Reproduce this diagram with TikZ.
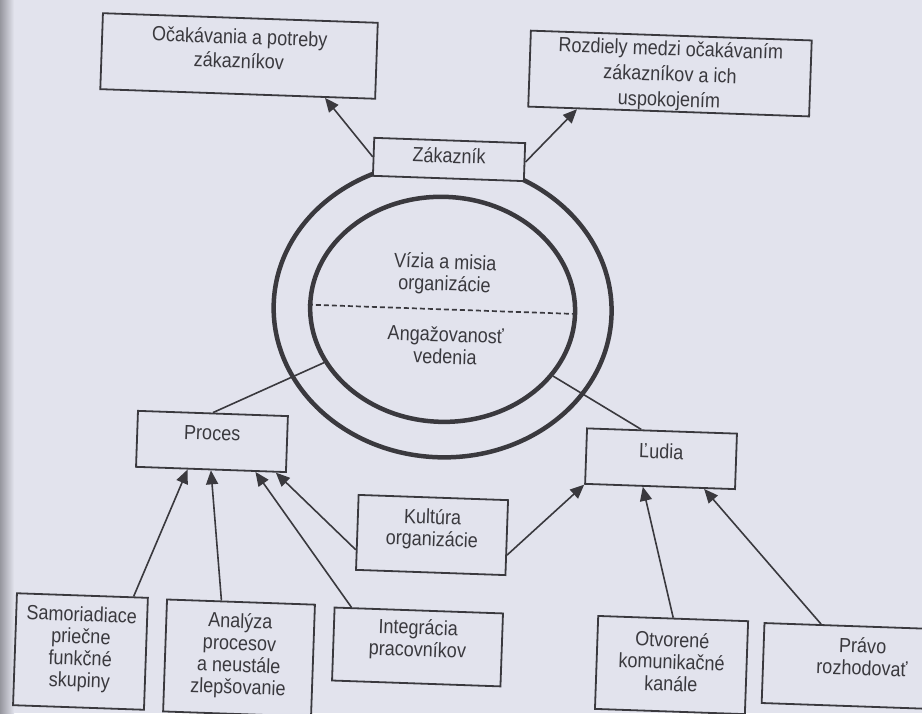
\documentclass[tikz,border=0pt]{standalone}
\usepackage{fontspec}
\setmainfont{Liberation Sans}[FakeStretch=0.88]
\usetikzlibrary{arrows.meta,positioning,shapes.geometric}
\definecolor{ink}{HTML}{3A393E}
\definecolor{paper}{HTML}{E2E3ED}
\tikzset{
  box/.style={draw=ink,line width=1.8pt,fill=paper,text=ink,align=center,inner sep=0pt,text depth=#1},
  box/.default=9pt,
  ring/.style={ellipse,draw=ink,line width=4.5pt,inner sep=0pt},
  link/.style={draw=ink,line width=1.6pt},
  feed/.style={link,-{Triangle[length=14pt,width=12pt]}},
  wide/.style={font=\fontsize{20.5}{#1}\selectfont},
  wide/.default=24pt
}
\begin{document}
\begin{tikzpicture}[x=1pt,y=-1pt,font=\fontsize{20.5}{22}\selectfont]
\fill[paper] (0,0) rectangle (922,713);
\clip (0,0) rectangle (922,713);
\shade[left color=ink!45!paper,right color=paper] (0,0) rectangle (14,713);
\begin{scope}[rotate around={-2:(461,356)},transform shape]
\node[ring,minimum width=338pt,minimum height=296pt] (outer) at (441,310) {};
\node[ring,minimum width=265pt,minimum height=225pt] (inner) at (441,310) {};
\draw[ink,line width=1.7pt,dash pattern=on 5pt off 3pt] (inner.west) -- (inner.east);
\node[align=center,text=ink] (vision) at (442,275) {Vízia a misia\\organizácie};
\node[align=center,text=ink] (lead) at (445,346) {Angažovanosť\\vedenia};

\node[box=15pt,wide,minimum width=275pt,minimum height=76pt] (wants) at (228.7,63.9) {Očakávania a potreby\\zákazníkov};
\node[box=0pt,wide=25.5pt,minimum width=281pt,minimum height=76pt] (gaps) at (660,66.4) {Rozdiely medzi očakávaním\\zákazníkov a ich\\uspokojením};
\node[box=8pt,minimum width=151pt,minimum height=38pt] (customer) at (442.2,160) {Zákazník};
\node[box=17pt,minimum width=150pt,minimum height=56pt] (process) at (215.1,450.1) {Proces};
\node[box=15pt,minimum width=150pt,minimum height=55.5pt] (people) at (664.5,451.7) {Ľudia};
\node[box=15pt,minimum width=149.5pt,minimum height=75pt] (culture) at (438.3,535.9) {Kultúra\\organizácie};
\node[box,minimum width=131pt,minimum height=112pt] (teams) at (91,664.6) {Samoriadiace\\priečne\\funkčné\\skupiny};
\node[box,minimum width=148pt,minimum height=112pt] (analysis) at (249.7,665.6) {Analýza\\procesov\\a neustále\\zlepšovanie};
\node[box=18pt,minimum width=168.5pt,minimum height=73pt] (staff) at (427.7,648.3) {Integrácia\\pracovníkov};
\node[box=7pt,minimum width=150pt,minimum height=93pt] (channels) at (682.2,657.5) {Otvorené\\komunikačné\\kanále};
\node[box=20pt,minimum width=198pt,minimum height=80pt] (decide) at (872.6,652.3) {Právo\\rozhodovať};

\draw[feed] (customer.west) -- (wants.336);
\draw[feed] (customer.east) -- (gaps.203);
\draw[link] (process.north) -- (inner);
\draw[link] (people.126) -- (inner);
\draw[feed] (teams.48) -- (process.231);
\draw[feed] (analysis.109) -- (process.south);
\draw[feed] (staff.151) -- (process.327);
\draw[feed] (culture.193) -- (process.336);
\draw[feed] (culture.347) -- (people.south west);
\draw[feed] (channels.north) -- (people.239);
\draw[feed] (decide.136) -- (people.327);
\end{scope}
\end{tikzpicture}
\end{document}
